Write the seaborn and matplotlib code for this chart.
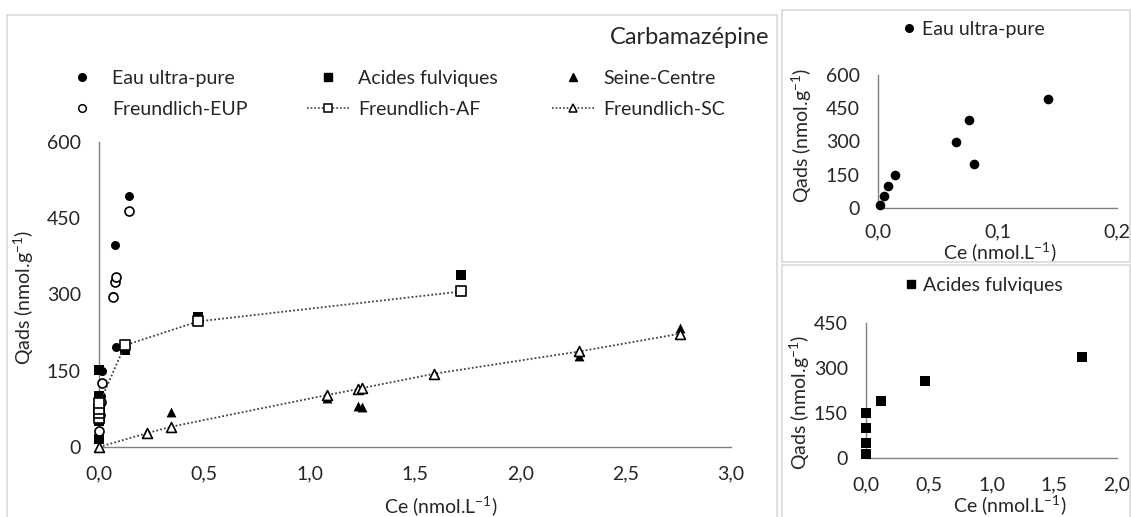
import numpy as np
import pandas as pd
import matplotlib
matplotlib.use("Agg")
import matplotlib.pyplot as plt
import seaborn as sns
from matplotlib.lines import Line2D
from matplotlib.patches import Rectangle
from matplotlib.ticker import FixedLocator, FuncFormatter

# ---------------- data ----------------
eup_x = [0.002, 0.005, 0.008, 0.014, 0.065, 0.076, 0.080, 0.142]
eup_y = [15, 52, 101, 150, 298, 398, 197, 493]
feup_x = [0.002, 0.005, 0.008, 0.014, 0.065, 0.076, 0.080, 0.142]
feup_y = [32, 62, 88, 125, 296, 325, 334, 465]

af_x = [0.0, 0.0, 0.0, 0.0, 0.123, 0.47, 1.72]
af_y = [15, 51, 101, 151, 190, 256, 338]
faf_x = [0.0, 0.0, 0.001, 0.002, 0.123, 0.47, 1.72]
faf_y = [58, 66, 74, 86, 200, 247, 306]

sc_x = [0.226, 0.344, 1.08, 1.23, 1.25, 1.59, 2.28, 2.76]
sc_y = [29, 68, 97, 81, 78, 143, 180, 234]
fsc_x = [0.0, 0.226, 0.344, 1.08, 1.23, 1.25, 1.59, 2.28, 2.76]
fsc_y = [0, 27, 40, 102, 114, 116, 144, 188, 223]

main_xticks = [0.0, 0.5, 1.0, 1.5, 2.0, 2.5, 3.0]
main_yticks = [0, 150, 300, 450, 600]
in1_xticks = [0.0, 0.1, 0.2]
in1_yticks = [0, 150, 300, 450, 600]
in2_xticks = [0.0, 0.5, 1.0, 1.5, 2.0]
in2_yticks = [0, 150, 300, 450]

labels = ["Eau ultra-pure", "Acides fulviques", "Seine-Centre",
          "Freundlich-EUP", "Freundlich-AF", "Freundlich-SC"]
title = "Carbamazépine"
ylab = "Qads (nmol.g$^{-1}$)"
xlab = "Ce (nmol.L$^{-1}$)"

# ---------------- style ----------------
sns.set_theme(style="white")
plt.rcParams["font.family"] = ["Lato", "DejaVu Sans"]
plt.rcParams["mathtext.fontset"] = "custom"
plt.rcParams["mathtext.rm"] = "Lato"
plt.rcParams["mathtext.it"] = "Lato:italic"
plt.rcParams["mathtext.bf"] = "Lato:bold"
TXT = "#262626"
SPINE = "#808080"
FS = 14

W, H = 1131, 517
fig = plt.figure(figsize=(W / 100, H / 100), dpi=100)


def box(l, t, r, b):
    return [l / W, 1 - b / H, (r - l) / W, (b - t) / H]


# panel frames
for (l, t, r, b) in [(7, 15, 777, 530), (782, 10, 1130, 262), (782, 265, 1130, 530)]:
    fig.add_artist(Rectangle((l / W, 1 - b / H), (r - l) / W, (b - t) / H,
                             transform=fig.transFigure, fill=False,
                             edgecolor="#d9d9d9", lw=1.2))

ax = fig.add_axes(box(99, 142, 731, 447))
ax1 = fig.add_axes(box(878, 75, 1117, 208))
ax2 = fig.add_axes(box(866, 323, 1117, 458))

comma = FuncFormatter(lambda v, p: f"{v:.1f}".replace(".", ","))
intf = FuncFormatter(lambda v, p: f"{v:.0f}")


def style(a, xt, yt, xlim, ylim, xpad, ypad):
    a.set_xlim(*xlim)
    a.set_ylim(*ylim)
    a.xaxis.set_major_locator(FixedLocator(xt))
    a.yaxis.set_major_locator(FixedLocator(yt))
    a.xaxis.set_major_formatter(comma)
    a.yaxis.set_major_formatter(intf)
    a.tick_params(axis="x", length=0, pad=xpad, labelsize=FS, labelcolor=TXT)
    a.tick_params(axis="y", length=0, pad=ypad, labelsize=FS, labelcolor=TXT)
    for s in ["top", "right"]:
        a.spines[s].set_visible(False)
    for s in ["left", "bottom"]:
        a.spines[s].set_color(SPINE)
        a.spines[s].set_linewidth(1.0)
    a.set_facecolor("none")
    a.grid(False)


style(ax, main_xticks, main_yticks, (0, 3), (0, 600), 13, 13)
style(ax1, in1_xticks, in1_yticks, (0, 0.2), (0, 600), 11, 13)
style(ax2, in2_xticks, in2_yticks, (0, 2), (0, 450), 13, 13)

MS = 42
DOT = (0, (1, 1.2))

# ---- main chart ----
sns.scatterplot(x=eup_x, y=eup_y, ax=ax, marker="o", color="black", s=MS,
                linewidth=0, zorder=3, clip_on=False)
sns.scatterplot(x=af_x, y=af_y, ax=ax, marker="s", color="black", s=MS,
                linewidth=0, zorder=3, clip_on=False)
sns.scatterplot(x=sc_x, y=sc_y, ax=ax, marker="^", color="black", s=MS * 1.2,
                linewidth=0, zorder=3, clip_on=False)

sns.scatterplot(x=feup_x, y=feup_y, ax=ax, marker="o", color="white",
                edgecolor="black", s=MS, linewidth=1.2, zorder=5, clip_on=False)
sns.lineplot(x=faf_x, y=faf_y, ax=ax, estimator=None, sort=False, color="#404040",
             linestyle=DOT, lw=1.3, zorder=4)
sns.scatterplot(x=faf_x, y=faf_y, ax=ax, marker="s", color="white",
                edgecolor="black", s=MS, linewidth=1.2, zorder=5, clip_on=False)
sns.lineplot(x=fsc_x, y=fsc_y, ax=ax, estimator=None, sort=False, color="#404040",
             linestyle=DOT, lw=1.3, zorder=4)
sns.scatterplot(x=fsc_x, y=fsc_y, ax=ax, marker="^", color="white",
                edgecolor="black", s=MS * 1.2, linewidth=1.2, zorder=5, clip_on=False)

# ---- insets ----
sns.scatterplot(x=eup_x, y=eup_y, ax=ax1, marker="o", color="black", s=MS * 1.15,
                linewidth=0, zorder=3, clip_on=False)
sns.scatterplot(x=af_x, y=af_y, ax=ax2, marker="s", color="black", s=MS * 1.15,
                linewidth=0, zorder=3, clip_on=False)

# labels
for a, (xx, xy), (yx, yy) in [
    (ax, (0.541, -0.193), (-0.119, 0.489)),
    (ax1, (0.510, -0.335), (-0.318, 0.549)),
    (ax2, (0.574, -0.350), (-0.263, 0.415)),
]:
    a.set_xlabel(xlab, fontsize=FS, color=TXT)
    a.set_ylabel(ylab, fontsize=FS, color=TXT)
    a.xaxis.set_label_coords(xx, xy)
    a.yaxis.set_label_coords(yx, yy)
    a.xaxis.label.set_va("center")
    a.yaxis.label.set_va("center")

# title
fig.text(769 / W, 1 - 38 / H, title, ha="right", va="center", fontsize=17, color=TXT)

# legends (main, 3 columns)
lms = 5.5
h_eup = Line2D([], [], marker="o", ls="none", color="black", ms=lms)
h_af = Line2D([], [], marker="s", ls="none", color="black", ms=lms)
h_sc = Line2D([], [], marker="^", ls="none", color="black", ms=lms)
h_feup = Line2D([], [], marker="o", ls="none", mfc="white", mec="black", ms=lms, mew=1.1)
h_faf = Line2D([], [], marker="s", ls=DOT, color="#404040", lw=1.2,
               mfc="white", mec="black", ms=lms, mew=1.1)
h_fsc = Line2D([], [], marker="^", ls=DOT, color="#404040", lw=1.2,
               mfc="white", mec="black", ms=lms, mew=1.1)

cols = [(61, [h_eup, h_feup], [labels[0], labels[3]]),
        (307, [h_af, h_faf], [labels[1], labels[4]]),
        (552, [h_sc, h_fsc], [labels[2], labels[5]])]
for xpx, hs, ls in cols:
    fig.legend(handles=hs, labels=ls, loc="center left",
               bbox_to_anchor=(xpx / W, 1 - 94 / H), frameon=False,
               handlelength=2.16, handletextpad=0.46, labelspacing=0.73,
               borderpad=0, borderaxespad=0, fontsize=FS, labelcolor=TXT)

# inset legends
fig.legend(handles=[h_eup], labels=[labels[0]], loc="center",
           bbox_to_anchor=(974 / W, 1 - 29 / H), frameon=False,
           handlelength=0.6, handletextpad=0.35, borderpad=0, fontsize=FS, labelcolor=TXT)
fig.legend(handles=[h_af], labels=[labels[1]], loc="center",
           bbox_to_anchor=(984 / W, 1 - 285 / H), frameon=False,
           handlelength=0.6, handletextpad=0.35, borderpad=0, fontsize=FS, labelcolor=TXT)

fig.savefig("out.png", dpi=100)
